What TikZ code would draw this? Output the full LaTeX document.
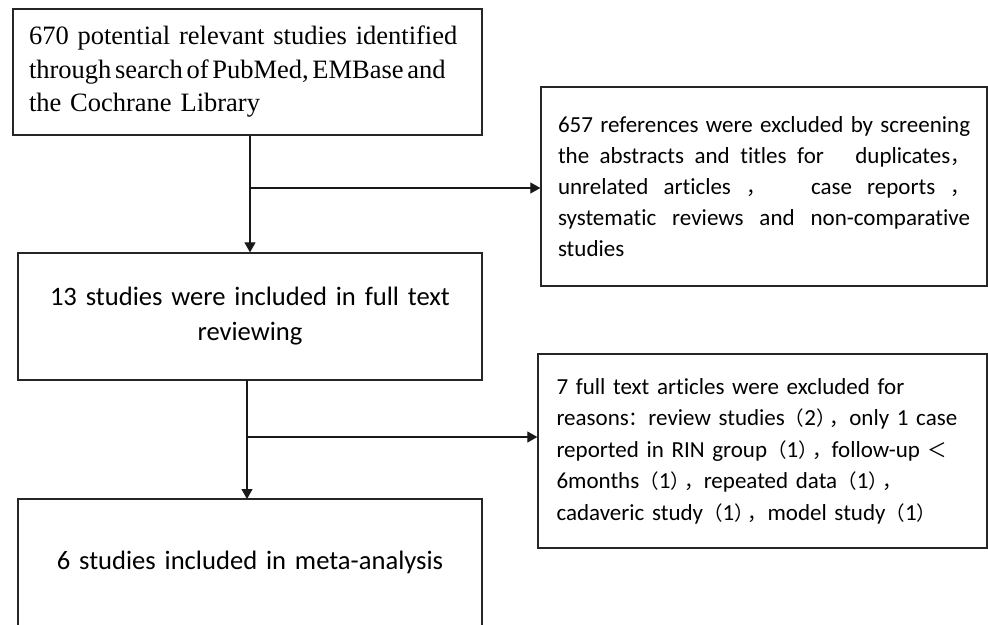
\documentclass[tikz,border=0pt]{standalone}
\usepackage{fontspec}
\setmainfont[Ligatures={NoCommon}]{Carlito}
\newfontfamily\seriffam{Liberation Serif}
\newfontfamily\cjk[Scale=0.85]{Noto Sans CJK SC}
\usetikzlibrary{arrows.meta}
\hyphenpenalty=10000
\exhyphenpenalty=10000
\newcommand\fwlp{{\cjk （}}
\newcommand\fwrp{{\cjk ）}}
\newcommand\fwrpcm{{\cjk ）\kern-0.3em ，}}
\newcommand\fwcm{{\cjk ，}}
\newcommand\fwco{{\cjk ：}}
\newcommand\fwlt{{\cjk ＜}}
\tikzset{
  boxnode/.style={draw=black!85, line width=1.3pt, inner sep=0pt, fill=white},
  arr/.style={line width=1.1pt, draw=black!90, -{Triangle[length=10pt,width=11pt]}},
}
\begin{document}
\begin{tikzpicture}[x=1pt,y=-1pt]
\useasboundingbox[fill=white] (0,0) rectangle (988,624);
\node[boxnode, minimum width=469pt, minimum height=126pt, text width=437pt, align=left,
  font=\seriffam\fontsize{26.5}{33.5}\selectfont] (b1) at (247.5,72)
  {670 potential relevant studies identified\\ {\spaceskip=0.14em\relax through search of PubMed, EMBase and}\\ the Cochrane Library};
\node[boxnode, minimum width=464pt, minimum height=127pt, text width=440pt, align=center,
  font=\fontsize{26.6}{35}\selectfont] (b2) at (250,316.5)
  {13 studies were included in full text\\ reviewing};
\node[boxnode, minimum width=446pt, minimum height=199pt, text width=412pt, align=justify,
  font=\fontsize{23}{31}\selectfont] (b3) at (764,186.5)
  {657 references were excluded by screening\linebreak the abstracts and titles for\ \ \ duplicates\fwcm\linebreak unrelated articles \fwcm\ \ \ case reports \fwcm\linebreak systematic reviews and non-comparative\linebreak studies};
\node[boxnode, minimum width=464pt, minimum height=127pt, text width=440pt, align=center,
  font=\fontsize{26.6}{35}\selectfont] (b4) at (250,562.5)
  {6 studies included in meta-analysis};
\node[boxnode, minimum width=449pt, minimum height=194pt, text width=412pt, align=left,
  font=\fontsize{23}{31.5}\selectfont] (b5) at (762.5,451)
  {7 full text articles were excluded for\\
   reasons\fwco review studies\fwlp 2\fwrpcm only 1 case\\
   reported in RIN group\fwlp 1\fwrpcm follow-up \fwlt\\
   6months\fwlp 1\fwrpcm repeated data\fwlp 1\fwrpcm\\
   cadaveric study\fwlp 1\fwrpcm model study\fwlp 1\fwrp};
\draw[arr] (b2.north |- b1.south) -- (b2.north);
\coordinate (j1) at (250,188);
\draw[arr] (j1) -- (j1 -| b3.west);
\coordinate (s2) at (247,380);
\coordinate (e2) at (247,499);
\draw[arr] (s2) -- (e2);
\coordinate (j2) at (247,437);
\draw[arr] (j2) -- (j2 -| b5.west);
\end{tikzpicture}
\end{document}
